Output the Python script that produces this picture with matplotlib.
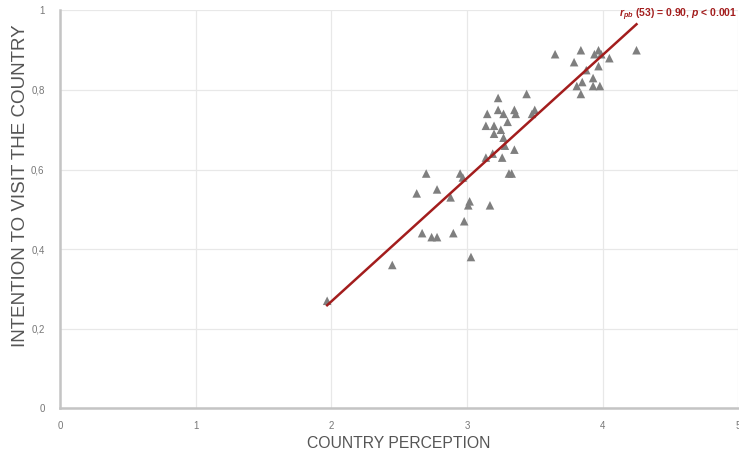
import numpy as np
import matplotlib
matplotlib.use("Agg")
import matplotlib.pyplot as plt
from matplotlib.ticker import FuncFormatter

# country perception score vs intention to visit
perception = [1.97, 2.45, 2.63, 2.70, 2.67, 2.74, 2.78, 2.78, 2.88, 2.90,
              2.95, 2.97, 2.98, 3.02, 3.01, 3.03, 3.17, 3.14, 3.19, 3.26,
              3.31, 3.33, 3.35, 3.28, 3.27, 3.20, 3.14, 3.20, 3.25, 3.30,
              3.15, 3.23, 3.27, 3.35, 3.36, 3.50, 3.48, 3.23, 3.44, 3.65,
              3.84, 3.94, 3.97, 3.99, 4.05, 4.25, 3.79, 3.88, 3.97, 3.93,
              3.85, 3.81, 3.93, 3.98, 3.84]
intention = [0.27, 0.36, 0.54, 0.59, 0.44, 0.43, 0.43, 0.55, 0.53, 0.44,
             0.59, 0.58, 0.47, 0.52, 0.51, 0.38, 0.51, 0.63, 0.64, 0.63,
             0.59, 0.59, 0.65, 0.66, 0.68, 0.69, 0.71, 0.71, 0.70, 0.72,
             0.74, 0.75, 0.74, 0.75, 0.74, 0.75, 0.74, 0.78, 0.79, 0.89,
             0.90, 0.89, 0.90, 0.89, 0.88, 0.90, 0.87, 0.85, 0.86, 0.83,
             0.82, 0.81, 0.81, 0.81, 0.79]

x_ticks = [0, 1, 2, 3, 4, 5]
y_ticks = [0, 0.2, 0.4, 0.6, 0.8, 1]
stat_label = r"$r_{pb}$ (53) = 0.90, $p$ < 0.001"

plt.rcParams["font.family"] = ["Liberation Sans", "DejaVu Sans"]
plt.rcParams["mathtext.fontset"] = "custom"
plt.rcParams["mathtext.it"] = "Liberation Sans:italic:bold"
plt.rcParams["mathtext.rm"] = "Liberation Sans:bold"

fig = plt.figure(figsize=(7.39, 4.55), dpi=100)
ax = fig.add_axes([0.081, 0.103, 0.918, 0.874])

ax.scatter(perception, intention, marker="^", s=38, color="#7f7f7f",
           edgecolors="none", zorder=3)

# least-squares line across the data range
slope, icpt = np.polyfit(perception, intention, 1)
xs = np.array([min(perception), max(perception)])
ax.plot(xs, slope * xs + icpt, color="#a31d1d", lw=1.8, zorder=4)

ax.text(0.999, 0.99, stat_label, transform=ax.transAxes, ha="right", va="center",
        fontsize=7.5, fontweight="bold", color="#a31d1d")

ax.set_xlim(0, 5)
ax.set_ylim(0, 1)
ax.set_xticks(x_ticks)
ax.set_yticks(y_ticks)
ax.xaxis.set_major_formatter(FuncFormatter(lambda v, p: f"{v:g}"))
ax.yaxis.set_major_formatter(FuncFormatter(lambda v, p: f"{v:g}".replace(".", ",")))
ax.grid(True, color="#e8e8e8", lw=0.9)
ax.set_axisbelow(True)

for side in ["top", "right"]:
    ax.spines[side].set_visible(False)
for side in ["left", "bottom"]:
    ax.spines[side].set_color("#c4c4c4")
    ax.spines[side].set_linewidth(1.8)

ax.tick_params(length=0, labelsize=7, colors="#777777", pad=9)
ax.tick_params(axis="y", pad=11)
ax.set_xlabel("COUNTRY PERCEPTION", fontsize=11.3, color="#555555", labelpad=4)
ax.set_ylabel("INTENTION TO VISIT THE COUNTRY", fontsize=13.5, color="#555555",
              va="center")
ax.yaxis.set_label_coords(-0.058, 0.56)

fig.savefig("out.png", dpi=100)
